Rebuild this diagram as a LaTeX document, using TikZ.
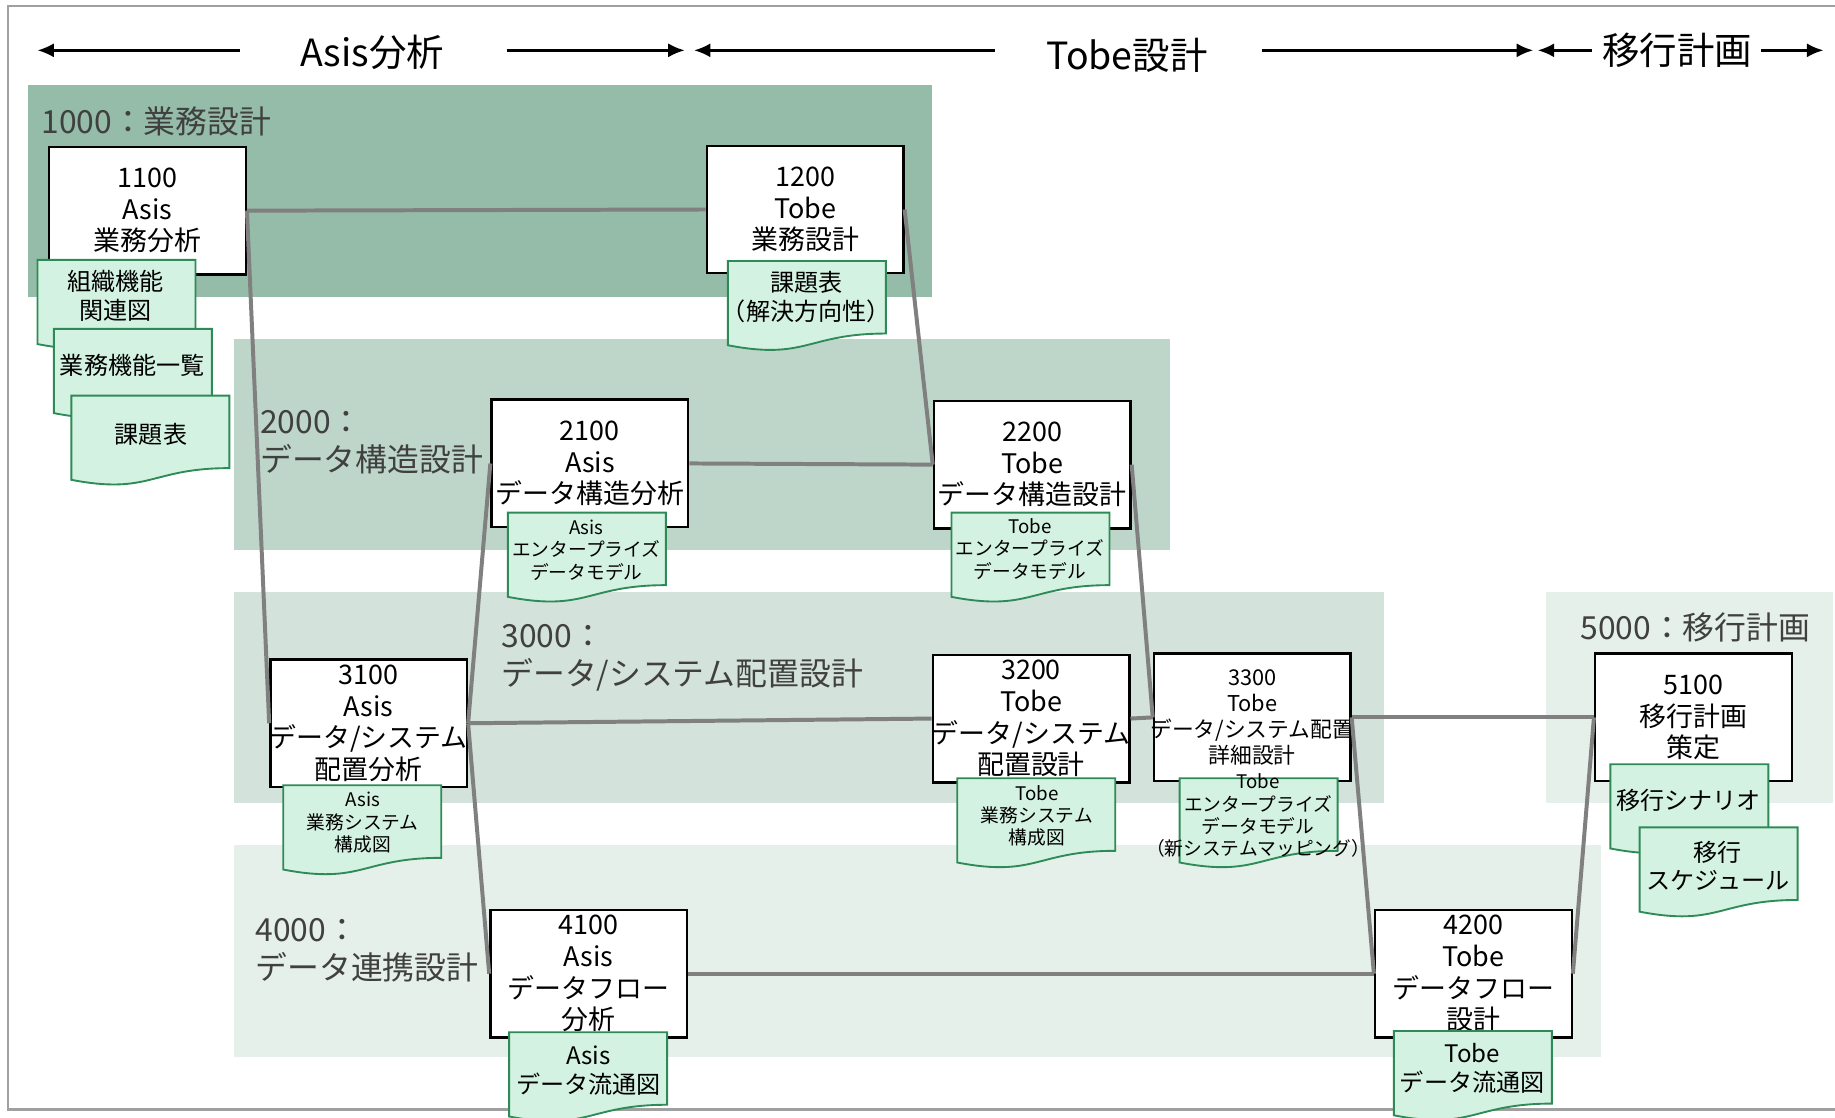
\documentclass[tikz,border=0pt]{standalone}
\usepackage{fontspec}
\setmainfont{Noto Sans CJK JP}
\usetikzlibrary{arrows.meta}
\definecolor{bandA}{RGB}{149,188,168}
\definecolor{bandB}{RGB}{190,214,202}
\definecolor{bandC}{RGB}{211,226,218}
\definecolor{bandD}{RGB}{230,240,235}
\definecolor{docfill}{RGB}{212,242,226}
\definecolor{docedge}{RGB}{46,139,87}
\definecolor{linkgray}{RGB}{128,128,128}
\definecolor{labelgray}{RGB}{64,64,64}
\definecolor{framegray}{RGB}{160,160,160}
\tikzset{
  taskbox/.style={draw=black,line width=1pt,fill=white,minimum width=84pt,minimum height=54.5pt,inner sep=0pt,align=center,font=\fontsize{11.5}{13.5}\selectfont},
  tasksmall/.style={taskbox,font=\fontsize{9.3}{11}\selectfont},
  docline/.style={draw=docedge,fill=docfill,line width=0.8pt},
  doctext/.style={inner sep=0pt,align=center,font=\fontsize{10.3}{12.2}\selectfont},
  docsmall/.style={doctext,font=\fontsize{8}{9.5}\selectfont},
  bandlabel/.style={anchor=west,inner sep=0pt,align=left,text=labelgray,font=\fontsize{13.6}{16}\selectfont},
  phasetext/.style={inner sep=0pt,font=\fontsize{16}{18}\selectfont},
  phase/.style={line width=1pt,-{Latex[length=7pt,width=6pt]}},
  link/.style={draw=linkgray,line width=1.7pt},
}
\newcommand{\wide}[1]{\makebox[0pt]{#1}}
\newcommand{\docshape}[1]{%
  \path (#1) coordinate (dA) ++(135,0) coordinate (dB) ++(0,62) coordinate (dC)
    ++(-67.5,0) coordinate (dD) ++(0,23) coordinate (dE) ++(-67.5,-13) coordinate (dF);
  \filldraw[docline] (dA) -- (dB) -- (dC) .. controls (dD) and (dE) .. (dF) -- cycle;}
\begin{document}
\begin{tikzpicture}[x=0.5pt,y=0.5pt,yscale=-1,xscale=1]
\useasboundingbox (0,0) rectangle (1568,955.3);
\draw[framegray,line width=1pt] (1600,5) -- (7,5) -- (7,948) -- (1600,948);

\fill[bandA] (24,73) rectangle (796,254);
\fill[bandB] (200,290) rectangle (1000,470);
\fill[bandC] (200,506) rectangle (1183,686);
\fill[bandD] (200,722) rectangle (1368,903);
\fill[bandD] (1321,506) rectangle (1566,686);

\node[bandlabel] (l1000) at (35,104) {1000：業務設計};
\node[bandlabel] (l2000) at (222,378) {2000：\\データ構造設計};
\node[bandlabel] (l3000) at (428,562) {3000：\\データ/システム配置設計};
\node[bandlabel] (l4000) at (218,812) {4000：\\データ連携設計};
\node[bandlabel] (l5000) at (1350,536) {5000：移行計画};

\node[phasetext] (hAsis) at (318,45) {Asis分析};
\node[phasetext] (hTobe) at (963,47) {Tobe設計};
\node[phasetext] (hMove) at (1433,43) {移行計画};
\coordinate (p1) at (32,43);
\coordinate (p2) at (205,43);
\coordinate (p3) at (433,43);
\coordinate (p4) at (585,43);
\coordinate (p5) at (593,43);
\coordinate (p6) at (850,43);
\coordinate (p7) at (1078,43);
\coordinate (p8) at (1310,43);
\coordinate (p9) at (1314,43);
\coordinate (p10) at (1360,43);
\coordinate (p11) at (1505,43);
\coordinate (p12) at (1558,43);
\draw[phase] (p2) -- (p1);
\draw[phase] (p3) -- (p4);
\draw[phase] (p6) -- (p5);
\draw[phase] (p7) -- (p8);
\draw[phase] (p10) -- (p9);
\draw[phase] (p11) -- (p12);

\node[taskbox] (b1100) at (126,180) {1100\\Asis\\業務分析};
\node[taskbox] (b1200) at (688,179) {1200\\Tobe\\業務設計};
\node[taskbox] (b2100) at (504,396) {2100\\Asis\\データ構造分析};
\node[taskbox] (b2200) at (882,397) {2200\\Tobe\\データ構造設計};
\node[taskbox] (b3100) at (315,618) {3100\\Asis\\\wide{データ/システム}\\配置分析};
\node[taskbox] (b3200) at (881,614) {3200\\Tobe\\\wide{データ/システム}\\配置設計};
\node[tasksmall] (b3300) at (1070,613) {3300\\Tobe\\\wide{データ/システム配置}\\詳細設計};
\node[taskbox] (b4100) at (503,832) {4100\\Asis\\データフロー\\分析};
\node[taskbox] (b4200) at (1259,832) {4200\\Tobe\\データフロー\\設計};
\node[taskbox] (b5100) at (1447,613) {5100\\移行計画\\策定};

\draw[link] (b1100.east) -- (b1200.west);
\draw[link] (b1100.east) -- (b3100.west);
\draw[link] (b1200.east) -- (b2200.west);
\draw[link] (b2100.east) -- (b2200.west);
\draw[link] (b2100.west) -- (b3100.east);
\draw[link] (b3100.east) -- (b3200.west);
\draw[link] (b3100.east) -- (b4100.west);
\draw[link] (b2200.east) -- (b3300.west);
\draw[link] (b3200.east) -- (b3300.west);
\draw[link] (b3300.east) -- (b5100.west);
\draw[link] (b3300.east) -- (b4200.west);
\draw[link] (b4100.east) -- (b4200.west);
\draw[link] (b4200.east) -- (b5100.west);

\docshape{32,222}
\node[doctext] (d1100a) at (99,253) {組織機能\\関連図};
\docshape{46,281}
\node[doctext] (d1100b) at (113,312) {業務機能一覧};
\docshape{61,338}
\node[doctext] (d1100c) at (129,371) {課題表};
\docshape{622,223}
\node[doctext] (d1200) at (689,254) {課題表\\（解決方向性）};
\docshape{434,438}
\node[docsmall] (d2100) at (501,470) {Asis\\エンタープライズ\\データモデル};
\docshape{813,438}
\node[docsmall] (d2200) at (880,469) {Tobe\\エンタープライズ\\データモデル};
\docshape{242,671}
\node[docsmall] (d3100) at (310,703) {Asis\\業務システム\\構成図};
\docshape{818,665}
\node[docsmall] (d3200) at (886,697) {Tobe\\業務システム\\構成図};
\docshape{1008,665}
\node[docsmall] (d3300) at (1075,697) {Tobe\\エンタープライズ\\データモデル\\\wide{（新システムマッピング）}};
\docshape{435,882}
\node[doctext] (d4100) at (503,915) {Asis\\データ流通図};
\docshape{1191,881}
\node[doctext] (d4200) at (1258,913) {Tobe\\データ流通図};
\docshape{1376,653}
\node[doctext] (d5100a) at (1443,684) {移行シナリオ};
\docshape{1401,707}
\node[doctext] (d5100b) at (1468,740) {移行\\スケジュール};
\end{tikzpicture}
\end{document}
